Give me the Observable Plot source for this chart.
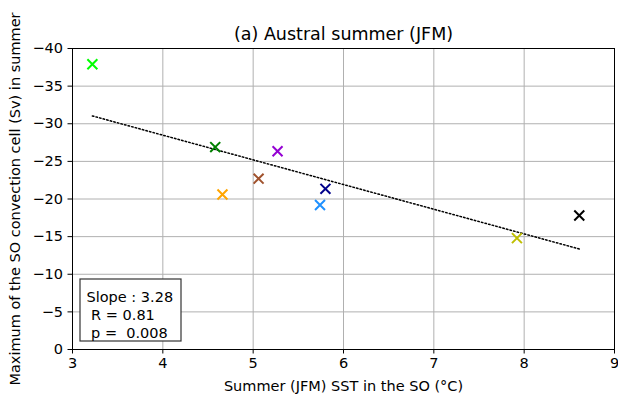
<!DOCTYPE html>
<html>
<head>
<meta charset="utf-8">
<script src="https://cdn.jsdelivr.net/npm/d3@7"></script>
<script src="https://cdn.jsdelivr.net/npm/@observablehq/plot@0.6"></script>
<style>
  html, body { margin: 0; padding: 0; background: white; }
</style>
</head>
<body>
<div id="chart"></div>
<script>
// Data
const sst = [3.22, 4.58, 4.66, 5.06, 5.27, 5.80, 5.74, 7.92, 8.61];
const cellMax = [-37.9, -26.9, -20.6, -22.7, -26.35, -21.35, -19.2, -14.8, -17.8];
const colors = ["#00ff00", "#008000", "#ffa500", "#a0522d", "#9400d3", "#00008b", "#1e90ff", "#bfbf00", "#000000"];
const xTicks = [3, 4, 5, 6, 7, 8, 9];
const yTicks = [0, -5, -10, -15, -20, -25, -30, -35, -40];
const title = "(a) Austral summer (JFM)";
const xLabel = "Summer (JFM) SST in the SO (°C)";
const yLabel = "Maximum of the SO convection cell (Sv) in summer";
const statsText = "Slope : 3.28\n R = 0.81\n p =  0.008";

const data = sst.map((x, i) => ({x, y: cellMax[i], c: colors[i]}));

const statsBox = (index, scales, values, dims) => {
  return d3.create("svg:rect")
    .attr("x", dims.marginLeft + 8)
    .attr("y", dims.height - dims.marginBottom - 70)
    .attr("width", 101)
    .attr("height", 62)
    .attr("fill", "white")
    .attr("stroke", "#333")
    .attr("stroke-width", 1.2)
    .node();
};

const chart = Plot.plot({
  width: 618,
  height: 403,
  marginLeft: 72,
  marginRight: 4,
  marginTop: 48,
  marginBottom: 54,
  style: "font-family: 'DejaVu Sans'; font-size: 14.5px; white-space: pre; background: white; color: black;",
  x: {domain: [3, 9]},
  y: {domain: [0, -40]},
  color: {type: "identity"},
  marks: [
    Plot.gridX(xTicks, {stroke: "#b0b0b0", strokeOpacity: 1, strokeWidth: 1}),
    Plot.gridY(yTicks, {stroke: "#b0b0b0", strokeOpacity: 1, strokeWidth: 1}),
    Plot.axisX(xTicks, {tickSize: 4.5, tickPadding: 4, label: null, fontSize: 14.5, stroke: "black"}),
    Plot.axisY(yTicks, {tickSize: 4.5, tickPadding: 5, label: null, fontSize: 14.5, stroke: "black"}),
    Plot.linearRegressionY(data, {x: "x", y: "y", ci: 0, stroke: "black", strokeWidth: 1.5, strokeDasharray: "1.5,2.2"}),
    Plot.dot(data, {x: "x", y: "y", symbol: "times", r: 4.6, stroke: "c", strokeWidth: 2}),
    Plot.frame({stroke: "black", strokeWidth: 1}),
    statsBox,
    Plot.text([statsText], {frameAnchor: "bottom-left", textAnchor: "start", lineAnchor: "bottom", dx: 14, dy: -12, lineHeight: 1.24, fontSize: 14.5, fill: "black"}),
    Plot.text([title], {frameAnchor: "top", lineAnchor: "middle", dy: -14, fontSize: 17.5, fill: "black"}),
    Plot.text([xLabel], {frameAnchor: "bottom", lineAnchor: "middle", dy: 37, fontSize: 14.5, fill: "black"}),
    Plot.text([yLabel], {frameAnchor: "left", textAnchor: "middle", dx: -57, rotate: -90, fontSize: 14.5, fill: "black"})
  ]
});
document.getElementById("chart").appendChild(chart);
</script>
</body>
</html>
